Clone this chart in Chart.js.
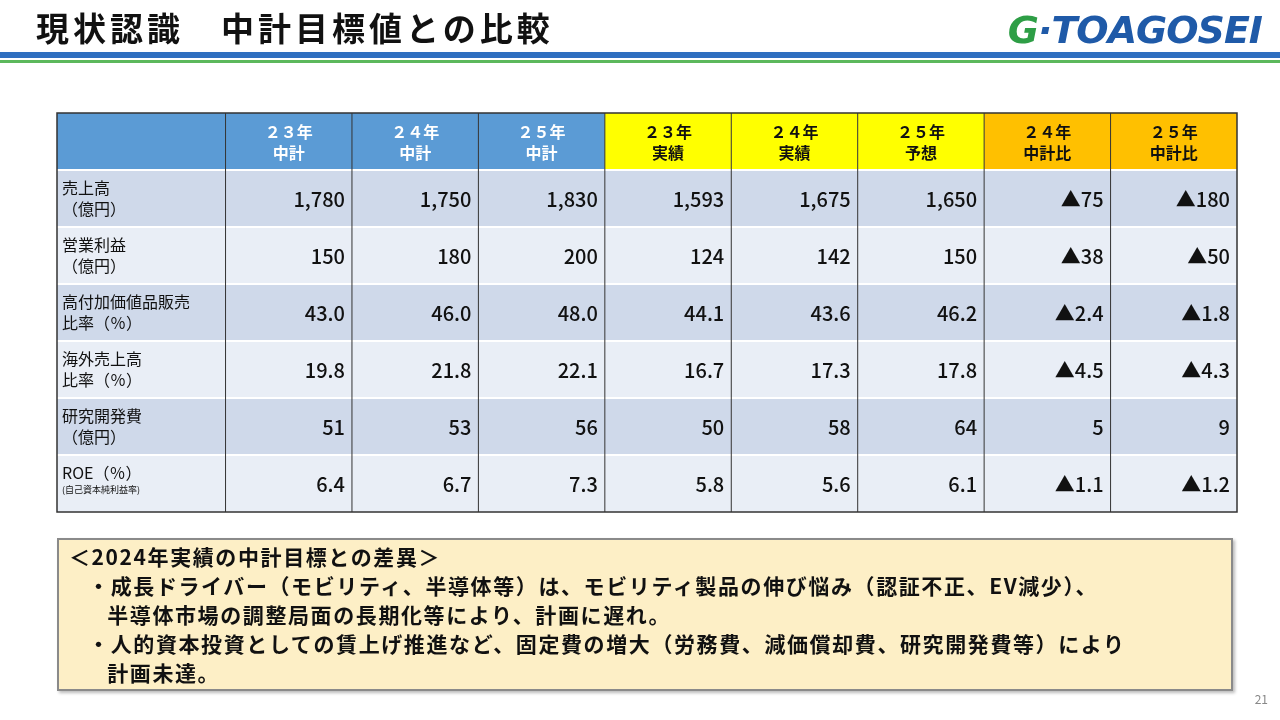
<!DOCTYPE html>
<html lang="ja">
<head>
<meta charset="UTF-8">
<title>現状認識 中計目標値との比較</title>
<script src="https://cdn.jsdelivr.net/npm/chart.js"></script>
<style>
  html, body { margin: 0; padding: 0; background: #fff; font-family: 'Noto Sans CJK JP', sans-serif; }
  #wrap { position: relative; width: 1280px; height: 720px; overflow: hidden; }
  #tbl { position: absolute; left: 0; top: 0; }
  .title { position: absolute; left: 36px; top: 3px; font-size: 33px; font-weight: 700; color: #111; letter-spacing: 4px; }
  .logo { position: absolute; right: 18px; top: 8px; font-size: 38px; font-weight: 700; font-style: italic; color: #1f5aa8; font-family: 'DejaVu Sans', sans-serif; letter-spacing: -1px; }
  .logo span { color: #2e9e46; }
  .bar1 { position: absolute; left: 0; top: 52px; width: 1280px; height: 6px; background: #2f6fc0; }
  .bar2 { position: absolute; left: 0; top: 60px; width: 1280px; height: 3px; background: #5cb85c; }
  .note { position: absolute; left: 57px; top: 538px; width: 1176px; height: 153px; background: #fdefc6; border: 2px solid #8a8a8a; box-shadow: 2px 2px 3px #bbb;
          font-size: 21px; font-weight: 700; line-height: 29px; color: #111; padding: 2px 0 0 10px; box-sizing: border-box; letter-spacing: 1.6px; }
  .note div { white-space: nowrap; }
  .pg { position: absolute; right: 12px; top: 690px; font-size: 12px; color: #888; }
</style>
</head>
<body>
<div id="wrap">
  <canvas id="tbl" width="1280" height="720"></canvas>
  <div class="title">現状認識　中計目標値との比較</div>
  <div class="logo"><span>G</span>·TOAGOSEI</div>
  <div class="bar1"></div>
  <div class="bar2"></div>
  <div class="note">
    <div>＜2024年実績の中計目標との差異＞</div>
    <div>&nbsp;&nbsp;&nbsp;・成長ドライバー（モビリティ、半導体等）は、モビリティ製品の伸び悩み（認証不正、EV減少）、</div>
    <div>&nbsp;&nbsp;&nbsp;&nbsp;&nbsp;&nbsp;半導体市場の調整局面の長期化等により、計画に遅れ。</div>
    <div>&nbsp;&nbsp;&nbsp;・人的資本投資としての賃上げ推進など、固定費の増大（労務費、減価償却費、研究開発費等）により</div>
    <div>&nbsp;&nbsp;&nbsp;&nbsp;&nbsp;&nbsp;計画未達。</div>
  </div>
  <div class="pg">21</div>
</div>
<script>
// column headers (two lines each)
const headers = [
  ['２３年', '中計'], ['２４年', '中計'], ['２５年', '中計'],
  ['２３年', '実績'], ['２４年', '実績'], ['２５年', '予想'],
  ['２４年', '中計比'], ['２５年', '中計比']
];
const headerGroups = ['plan', 'plan', 'plan', 'actual', 'actual', 'actual', 'diff', 'diff'];
const rowLabels = [
  ['売上高', '（億円）'],
  ['営業利益', '（億円）'],
  ['高付加価値品販売', '比率（％）'],
  ['海外売上高', '比率（％）'],
  ['研究開発費', '（億円）'],
  ['ROE（％）', '(自己資本純利益率)']
];
const plan23   = ['1,780', '150', '43.0', '19.8', '51', '6.4'];
const plan24   = ['1,750', '180', '46.0', '21.8', '53', '6.7'];
const plan25   = ['1,830', '200', '48.0', '22.1', '56', '7.3'];
const actual23 = ['1,593', '124', '44.1', '16.7', '50', '5.8'];
const actual24 = ['1,675', '142', '43.6', '17.3', '58', '5.6'];
const forecast25 = ['1,650', '150', '46.2', '17.8', '64', '6.1'];
const diff24   = ['▲75', '▲38', '▲2.4', '▲4.5', '5', '▲1.1'];
const diff25   = ['▲180', '▲50', '▲1.8', '▲4.3', '9', '▲1.2'];
const columns = [plan23, plan24, plan25, actual23, actual24, forecast25, diff24, diff25];

const headColors = { plan: '#5b9bd5', actual: '#ffff00', diff: '#ffc000' };
const headText = { plan: '#ffffff', actual: '#111111', diff: '#111111' };
const LABEL_W = 1.333; // label column width in column units

const tablePlugin = {
  id: 'table',
  afterDraw(chart) {
    const ctx = chart.ctx, x = chart.scales.x, y = chart.scales.y;
    const edge = i => x.getPixelForValue(i === 0 ? 0 : LABEL_W + i - 1);
    const rowTop = r => y.getPixelForValue(r);
    const nRows = rowLabels.length + 1, nCols = columns.length + 1;
    ctx.save();
    for (let r = 0; r < nRows; r++) {
      for (let c = 0; c < nCols; c++) {
        let fill;
        if (r === 0) fill = c === 0 ? '#5b9bd5' : headColors[headerGroups[c - 1]];
        else fill = (r % 2 === 1) ? '#cfd9ea' : '#e9eef6';
        ctx.fillStyle = fill;
        ctx.fillRect(edge(c), rowTop(r), edge(c + 1) - edge(c), rowTop(r + 1) - rowTop(r));
      }
    }
    ctx.strokeStyle = '#ffffff'; ctx.lineWidth = 2;
    for (let r = 1; r < nRows; r++) {
      ctx.beginPath(); ctx.moveTo(edge(0), rowTop(r)); ctx.lineTo(edge(nCols), rowTop(r)); ctx.stroke();
    }
    ctx.strokeStyle = '#333'; ctx.lineWidth = 1;
    for (let c = 1; c < nCols; c++) {
      ctx.beginPath(); ctx.moveTo(edge(c), rowTop(0)); ctx.lineTo(edge(c), rowTop(nRows)); ctx.stroke();
    }
    ctx.lineWidth = 1.5;
    ctx.strokeRect(edge(0), rowTop(0), edge(nCols) - edge(0), rowTop(nRows) - rowTop(0));
    ctx.textAlign = 'center'; ctx.textBaseline = 'middle';
    ctx.font = 'bold 16px "Noto Sans CJK JP"';
    headers.forEach((h, i) => {
      const cx = (edge(i + 1) + edge(i + 2)) / 2, cy = (rowTop(0) + rowTop(1)) / 2;
      ctx.fillStyle = headText[headerGroups[i]];
      ctx.fillText(h[0], cx, cy - 10);
      ctx.fillText(h[1], cx, cy + 11);
    });
    ctx.textAlign = 'left'; ctx.fillStyle = '#111';
    rowLabels.forEach((lab, r) => {
      const top = rowTop(r + 1), mid = (top + rowTop(r + 2)) / 2;
      ctx.font = '16px "Noto Sans CJK JP"';
      ctx.fillText(lab[0], edge(0) + 5, mid - 11);
      if (r === rowLabels.length - 1) ctx.font = '9px "Noto Sans CJK JP"';
      ctx.fillText(lab[1], edge(0) + 5, mid + (r === rowLabels.length - 1 ? 6 : 10));
    });
    ctx.textAlign = 'right'; ctx.font = '500 20px "Noto Sans CJK JP"';
    columns.forEach((col, c) => {
      col.forEach((v, r) => {
        const mid = (rowTop(r + 1) + rowTop(r + 2)) / 2;
        ctx.fillText(v, edge(c + 2) - 7, mid + 1);
      });
    });
    ctx.restore();
  }
};

new Chart(document.getElementById('tbl'), {
  type: 'scatter',
  data: { datasets: [{ data: [] }] },
  options: {
    responsive: false,
    animation: false,
    layout: { padding: { left: 57, right: 43, top: 113, bottom: 208 } },
    plugins: { legend: { display: false }, tooltip: { enabled: false } },
    scales: {
      x: { type: 'linear', min: 0, max: LABEL_W + columns.length, display: false },
      y: { type: 'linear', min: 0, max: rowLabels.length + 1, reverse: true, display: false }
    }
  },
  plugins: [tablePlugin]
});
</script>
</body>
</html>
